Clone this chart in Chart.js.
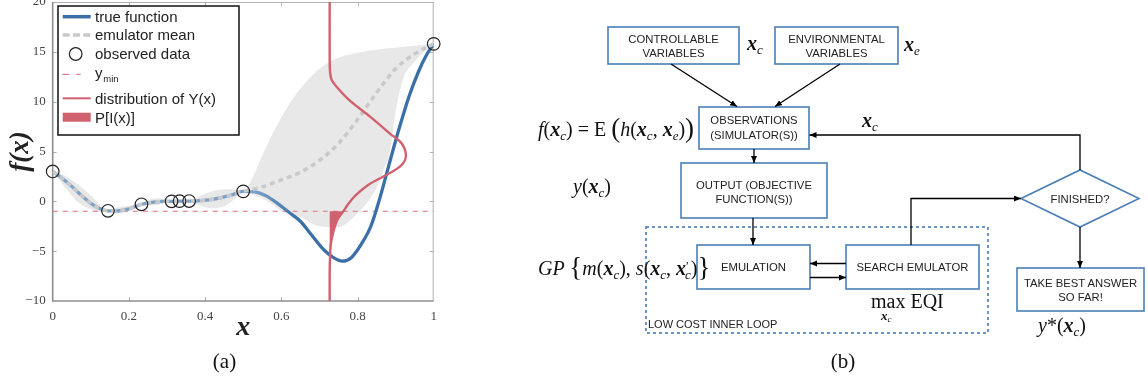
<!DOCTYPE html>
<html><head><meta charset="utf-8">
<script src="https://cdn.jsdelivr.net/npm/chart.js@4"></script>
<style>
html,body{margin:0;padding:0;background:#fff;width:1148px;height:383px;overflow:hidden}
#wrap{position:relative;width:1148px;height:383px}
#c1{position:absolute;left:0;top:0}
svg{position:absolute;left:0;top:0}
.bt{font-family:"Liberation Sans",Arial,sans-serif;font-size:11.3px;fill:#222;text-anchor:middle}
.m{font-family:"Liberation Serif","Times New Roman",serif;font-size:20px;fill:#111}
.bx{font-style:italic;font-weight:bold}
.it{font-style:italic}
.sb{font-style:italic;font-size:13px}
.cap{font-family:"Liberation Serif",serif;font-size:21px;fill:#111;text-anchor:middle}
</style></head>
<body><div id="wrap">
<canvas id="c1" width="450" height="383"></canvas>
<svg width="1148" height="383" viewBox="0 0 1148 383">
<defs><marker id="ah" markerWidth="8" markerHeight="8" refX="7" refY="3" orient="auto" markerUnits="userSpaceOnUse"><path d="M0,0 L7,3 L0,6 z" fill="#000"/></marker></defs>
<rect x="646" y="227" width="342" height="106" fill="none" stroke="#3a73b3" stroke-width="1.5" stroke-dasharray="3 3"/>
<g fill="#fff" stroke="#4a7fb6" stroke-width="1.6">
<rect x="608" y="27" width="131" height="37"/>
<rect x="775" y="27" width="123" height="37"/>
<rect x="699" y="107" width="110" height="42"/>
<rect x="681" y="163" width="146" height="55"/>
<rect x="697" y="245" width="113" height="44"/>
<rect x="846" y="245" width="133" height="44"/>
<rect x="1017" y="268" width="127" height="43"/>
<polygon points="1021,198.5 1080,170 1139,198.5 1080,227"/>
</g>
<g stroke="#000" stroke-width="1.3" fill="none" marker-end="url(#ah)">
<line x1="671" y1="64" x2="737" y2="106.5"/>
<line x1="840" y1="64" x2="775" y2="106.5"/>
<line x1="754" y1="149" x2="754" y2="163"/>
<line x1="753" y1="218" x2="753" y2="245"/>
<line x1="846" y1="263.5" x2="810" y2="263.5"/>
<line x1="810" y1="277.5" x2="846" y2="277.5"/>
<polyline points="911,245 911,198.5 1021,198.5"/>
<polyline points="1080,170 1080,135 809.5,135"/>
<line x1="1080" y1="227" x2="1080" y2="268"/>
</g>
<text class="bt" x="673.5" y="43">CONTROLLABLE</text>
<text class="bt" x="673.5" y="56.5">VARIABLES</text>
<text class="bt" x="836.5" y="43">ENVIRONMENTAL</text>
<text class="bt" x="836.5" y="56.5">VARIABLES</text>
<text class="bt" x="754" y="124">OBSERVATIONS</text>
<text class="bt" x="754" y="139">(SIMULATOR(S))</text>
<text class="bt" x="754" y="189">OUTPUT (OBJECTIVE</text>
<text class="bt" x="754" y="203">FUNCTION(S))</text>
<text class="bt" x="753.5" y="271">EMULATION</text>
<text class="bt" x="912.5" y="271">SEARCH EMULATOR</text>
<text class="bt" x="1080" y="203">FINISHED?</text>
<text class="bt" x="1080.5" y="286.5">TAKE BEST ANSWER</text>
<text class="bt" x="1080.5" y="300.5">SO FAR!</text>
<text class="bt" x="648" y="328" style="text-anchor:start;font-size:11px">LOW COST INNER LOOP</text>
<text class="m" x="747" y="50"><tspan class="bx">x</tspan><tspan class="sb" dy="4">c</tspan></text>
<text class="m" x="904" y="51"><tspan class="bx">x</tspan><tspan class="sb" dy="4">e</tspan></text>
<text class="m" x="862" y="127"><tspan class="bx">x</tspan><tspan class="sb" dy="4">c</tspan></text>
<text class="m" x="538" y="136"><tspan class="it">f</tspan><tspan>(</tspan><tspan class="bx">x</tspan><tspan class="sb" dy="4">c</tspan><tspan dy="-4">) = E </tspan><tspan font-size="27" dy="1">(</tspan><tspan class="it" dy="-1">h</tspan><tspan>(</tspan><tspan class="bx">x</tspan><tspan class="sb" dy="4">c</tspan><tspan dy="-4">, </tspan><tspan class="bx">x</tspan><tspan class="sb" dy="4">e</tspan><tspan dy="-4">)</tspan><tspan font-size="27" dy="1">)</tspan></text>
<text class="m" x="573" y="193"><tspan class="it">y</tspan><tspan>(</tspan><tspan class="bx">x</tspan><tspan class="sb" dy="4">c</tspan><tspan dy="-4">)</tspan></text>
<text class="m" x="538" y="275"><tspan class="it">GP </tspan><tspan font-size="27" dy="1">{</tspan><tspan class="it" dy="-1">m</tspan><tspan>(</tspan><tspan class="bx">x</tspan><tspan class="sb" dy="4">c</tspan><tspan dy="-4">), </tspan><tspan class="it">s</tspan><tspan>(</tspan><tspan class="bx">x</tspan><tspan class="sb" dy="4">c</tspan><tspan dy="-4">, </tspan><tspan class="bx">x</tspan><tspan font-size="13" dy="-5">′</tspan><tspan class="sb" dx="-4" dy="9">c</tspan><tspan dy="-4">)</tspan><tspan font-size="27" dy="1">}</tspan></text>
<text class="m" x="871" y="308">max EQI</text>
<text class="m" x="881" y="320" style="font-size:13px"><tspan class="bx">x</tspan><tspan class="sb" style="font-size:9px" dy="2">c</tspan></text>
<text class="m" x="1038" y="332"><tspan class="it">y</tspan><tspan>*(</tspan><tspan class="bx">x</tspan><tspan class="sb" dy="4">c</tspan><tspan dy="-4">)</tspan></text>
<text class="cap" x="224.5" y="368">(a)</text>
<text class="cap" x="843" y="368">(b)</text>
</svg>
</div>
<script>
// ---- data ----
const xTickLabels = ['0','0.2','0.4','0.6','0.8','1'];
const yTickLabels = ['\u221210','\u22125','0','5','10','15','20'];
const legendLabels = ['true function','emulator mean','observed data','ymin','distribution of Y(x)','P[I(x)]'];

const trueX = [0,0.025,0.05,0.075,0.1,0.125,0.145,0.17,0.2,0.233,0.26,0.29,0.32,0.35,0.38,0.41,0.44,0.47,0.5,0.53,0.56,0.59,0.62,0.65,0.68,0.71,0.735,0.76,0.785,0.81,0.835,0.86,0.885,0.91,0.935,0.96,0.98,1.0];
const trueY = [3.0,2.3,1.5,0.6,-0.2,-0.75,-0.95,-0.95,-0.75,-0.3,-0.1,0.0,0.0,0.02,0.05,0.15,0.35,0.65,1.0,0.95,0.55,-0.2,-1.1,-2.0,-3.4,-4.8,-5.6,-6.0,-5.6,-4.3,-2.5,0.5,4.0,7.4,10.5,13.0,14.6,15.8];

const meanX = [0,0.025,0.05,0.075,0.1,0.125,0.145,0.17,0.2,0.233,0.26,0.29,0.32,0.35,0.38,0.41,0.44,0.47,0.5,0.55,0.6,0.65,0.7,0.75,0.8,0.85,0.9,0.95,1.0];
const meanY = [3.0,2.3,1.5,0.6,-0.2,-0.75,-0.95,-0.95,-0.75,-0.3,-0.1,0.0,0.0,0.02,0.05,0.15,0.35,0.65,1.0,1.45,2.15,2.9,4.1,5.8,8.2,10.9,13.3,14.8,15.8];

const bandX = [0,0.02,0.04,0.07,0.1,0.125,0.145,0.17,0.19,0.21,0.233,0.25,0.27,0.29,0.312,0.333,0.358,0.39,0.42,0.45,0.48,0.5,0.52,0.55,0.58,0.6,0.625,0.65,0.7,0.75,0.8,0.83,0.85,0.87,0.885,0.9,0.92,0.95,0.975,1.0];
const bandUpper = [3.0,2.8,2.4,1.6,0.6,-0.4,-0.95,-0.6,-0.5,-0.4,-0.3,0.1,0.3,0.2,0.0,0.02,0.03,0.6,1.0,1.2,1.2,1.0,2.0,4.6,7.0,8.4,10.0,11.3,13.3,14.4,14.9,15.1,15.2,15.3,15.35,15.4,15.5,15.6,15.7,15.8];
const bandLower = [3.0,2.0,1.0,-0.2,-0.8,-1.1,-0.95,-1.2,-1.1,-0.8,-0.3,-0.4,-0.4,-0.2,0.0,0.02,0.03,-0.5,-0.7,-0.5,0.3,1.0,0.7,0.3,-0.4,-1.0,-1.3,-1.6,-2.5,-2.6,-1.2,0.1,1.4,3.3,5.0,9.0,12.3,14.0,15.0,15.8];

const distX = [0.727,0.727,0.728,0.732,0.745,0.78,0.833,0.885,0.916,0.927,0.912,0.868,0.826,0.795,0.775,0.763,0.748,0.737,0.73,0.728,0.727,0.727];
const distY = [20,14.5,13.0,12.2,11.5,10.1,8.5,6.8,5.8,4.5,3.5,2.5,1.6,0.6,-0.3,-1.0,-1.8,-3.0,-4.3,-5.5,-7.0,-10];

const probX = [0.727,0.763,0.755,0.748,0.742,0.737,0.733,0.73,0.728,0.727,0.727];
const probY = [-1.0,-1.0,-1.35,-1.8,-2.4,-3.0,-3.6,-4.3,-5.5,-6.5,-1.0];

const yminX = [0,1];
const yminY = [-1,-1];

const obsX = [0,0.145,0.233,0.312,0.333,0.358,0.5,1.0];
const obsY = [3.0,-0.95,-0.3,0.0,0.02,0.03,1.0,15.8];

// ---- styling ----
const blueDark = '#3b6fa8', blueLight = '#7da2c9', red = '#d0616f', grayBand = '#e8e8e8', grayMean = '#c9c9c9';
const pts = (xs, ys) => xs.map((x, i) => ({x, y: ys[i]}));

const framePlugin = {
  id: 'frame',
  beforeDatasetsDraw(chart) {
    const {ctx, chartArea: a, scales: {x, y}} = chart;
    ctx.save();
    ctx.strokeStyle = '#b3b3b3'; ctx.lineWidth = 1;
    ctx.beginPath();
    ctx.moveTo(a.left, a.top + 0.5); ctx.lineTo(a.right, a.top + 0.5);
    ctx.moveTo(a.right - 0.5, a.top); ctx.lineTo(a.right - 0.5, a.bottom);
    x.ticks.forEach(t => {
      if (t.value <= 0.001 || t.value >= 0.999) return;
      const p = Math.round(x.getPixelForValue(t.value)) + 0.5;
      ctx.moveTo(p, a.bottom); ctx.lineTo(p, a.bottom - 4);
      ctx.moveTo(p, a.top); ctx.lineTo(p, a.top + 4);
    });
    y.ticks.forEach(t => {
      if (t.value <= -10 || t.value >= 20) return;
      const p = Math.round(y.getPixelForValue(t.value)) + 0.5;
      ctx.moveTo(a.left, p); ctx.lineTo(a.left + 4, p);
      ctx.moveTo(a.right, p); ctx.lineTo(a.right - 4, p);
    });
    ctx.stroke();
    ctx.strokeStyle = '#8e8e8e'; ctx.lineWidth = 1.6;
    ctx.beginPath();
    ctx.moveTo(a.left, a.top); ctx.lineTo(a.left, a.bottom); ctx.lineTo(a.right, a.bottom);
    ctx.stroke();
    ctx.restore();
  }
};

const legendPlugin = {
  id: 'customLegend',
  afterDraw(chart) {
    const ctx = chart.ctx;
    const L = legendLabels;
    ctx.save();
    ctx.fillStyle = '#fff'; ctx.fillRect(58, 6, 181, 129);
    ctx.lineWidth = 1.5; ctx.strokeStyle = '#111'; ctx.strokeRect(58, 6, 181, 129);
    const x0 = 62.7, x1 = 90.7, tx = 95;
    ctx.lineCap = 'butt';
    ctx.strokeStyle = blueDark; ctx.lineWidth = 3.5;
    ctx.beginPath(); ctx.moveTo(x0, 16.7); ctx.lineTo(x1, 16.7); ctx.stroke();
    ctx.strokeStyle = grayMean; ctx.setLineDash([7, 3.3]);
    ctx.beginPath(); ctx.moveTo(x0, 35); ctx.lineTo(x1, 35); ctx.stroke();
    ctx.setLineDash([]); ctx.strokeStyle = '#222'; ctx.lineWidth = 1.2;
    ctx.beginPath(); ctx.arc(75.7, 54, 6.3, 0, Math.PI * 2); ctx.stroke();
    ctx.strokeStyle = '#dc8492'; ctx.lineWidth = 1.2; ctx.setLineDash([7, 7]);
    ctx.beginPath(); ctx.moveTo(x0 - 0.4, 74.3); ctx.lineTo(x1 - 10, 74.3); ctx.stroke();
    ctx.setLineDash([]);
    ctx.strokeStyle = red; ctx.lineWidth = 2;
    ctx.beginPath(); ctx.moveTo(x0, 98.3); ctx.lineTo(x1, 98.3); ctx.stroke();
    ctx.fillStyle = red; ctx.fillRect(x0, 112.7, x1 - x0, 9);
    ctx.fillStyle = '#222'; ctx.textBaseline = 'alphabetic';
    ctx.font = '15px "Liberation Sans", Arial, sans-serif';
    ctx.fillText(L[0], tx, 21.8);
    ctx.fillText(L[1], tx, 40.2);
    ctx.fillText(L[2], tx, 59.3);
    ctx.fillText(L[3].charAt(0), tx, 77.5);
    ctx.fillText(L[4], tx, 103.5);
    ctx.fillText(L[5], tx, 122.6);
    ctx.font = '9.5px "Liberation Sans", Arial, sans-serif';
    ctx.fillText(L[3].slice(1), 103.3, 81.6);
    ctx.restore();
  }
};

const serif = '"Liberation Serif", "Times New Roman", serif';

new Chart(document.getElementById('c1'), {
  type: 'line',
  data: {
    datasets: [
      { label: 'observed data', data: pts(obsX, obsY), showLine: false, pointRadius: 6.3, pointBorderWidth: 1.2,
        pointBorderColor: '#222', pointBackgroundColor: 'rgba(0,0,0,0)', borderColor: '#222', order: 0, clip: false },
      { label: 'P[I(x)]', data: pts(probX, probY), fill: 'shape', backgroundColor: red, borderWidth: 0,
        pointRadius: 0, tension: 0, order: 1 },
      { label: 'distribution of Y(x)', data: pts(distX, distY), borderColor: red, borderWidth: 2.4,
        pointRadius: 0, tension: 0.35, fill: false, order: 2 },
      { label: 'emulator mean', data: pts(meanX, meanY), borderColor: grayMean, borderWidth: 3.5, borderDash: [5, 4],
        pointRadius: 0, cubicInterpolationMode: 'monotone', fill: false, order: 3 },
      { label: 'true function', data: pts(trueX, trueY), borderWidth: 3.3, pointRadius: 0,
        cubicInterpolationMode: 'monotone', fill: false, order: 4,
        borderColor(c) {
          const ch = c.chart;
          if (!ch.chartArea) return blueDark;
          const xs = ch.scales.x;
          const g = ch.ctx.createLinearGradient(xs.getPixelForValue(0.53), 0, xs.getPixelForValue(0.645), 0);
          g.addColorStop(0, blueLight); g.addColorStop(1, blueDark);
          return g;
        } },
      { label: 'ymin', data: pts(yminX, yminY), borderColor: '#dc8492', borderWidth: 1.2, borderDash: [5, 5],
        pointRadius: 0, fill: false, order: 5 },
      { label: 'band lower', data: pts(bandX, bandLower), borderWidth: 0, pointRadius: 0,
        cubicInterpolationMode: 'monotone', fill: false, order: 7 },
      { label: 'band upper', data: pts(bandX, bandUpper), borderWidth: 0, pointRadius: 0,
        cubicInterpolationMode: 'monotone', fill: '-1', backgroundColor: grayBand, order: 6 }
    ]
  },
  options: {
    responsive: false, animation: false, events: [],
    layout: { autoPadding: false, padding: { left: 0, right: 16.3, top: 2, bottom: 38 } },
    plugins: { legend: { display: false }, tooltip: { enabled: false } },
    scales: {
      x: {
        type: 'linear', min: 0, max: 1,
        ticks: { stepSize: 0.2, padding: 8, color: '#444', maxRotation: 0, autoSkip: false,
          font: { family: serif, size: 13 }, callback: (v, i) => xTickLabels[i] },
        grid: { display: false, drawTicks: false }, border: { display: false },
        title: { display: true, text: 'x', color: '#222', padding: { top: 0, bottom: 0 },
          font: { family: serif, size: 28, style: 'italic', weight: 'bold' } },
        afterFit(s) { s.height = 44; s.paddingLeft = 0; s.paddingRight = 0; }
      },
      y: {
        type: 'linear', min: -10, max: 20,
        ticks: { stepSize: 5, padding: 7, color: '#444', autoSkip: false,
          font: { family: serif, size: 13, lineHeight: 0.1 }, callback: (v, i) => yTickLabels[i] },
        grid: { display: false, drawTicks: false }, border: { display: false },
        title: { display: true, text: 'f(x)', color: '#222', padding: { top: 5, bottom: 0 },
          font: { family: serif, size: 27, style: 'italic', weight: 'bold' } },
        afterFit(s) { s.width = 52.7; s.paddingTop = 0; s.paddingBottom = 0; }
      }
    }
  },
  plugins: [framePlugin, legendPlugin]
});
</script>
</body></html>
